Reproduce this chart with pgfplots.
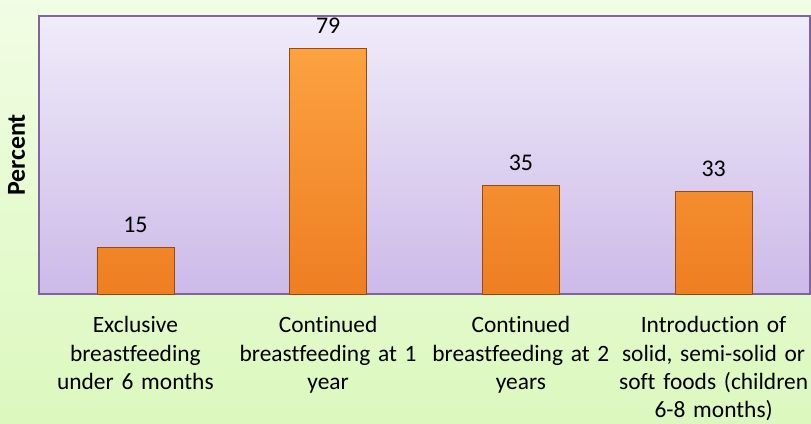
\documentclass[border=0pt]{standalone}
\usepackage{pgfplots}
\pgfplotsset{compat=1.18}
\usepackage{fontspec}
\setmainfont[Ligatures={NoCommon}]{Carlito}
\definecolor{bgtop}{RGB}{241,253,228}
\definecolor{bgbot}{RGB}{220,248,190}
\definecolor{patop}{RGB}{240,236,250}
\definecolor{pabot}{RGB}{204,186,232}
\definecolor{paborder}{RGB}{128,100,162}
\definecolor{bartop}{RGB}{252,162,64}
\definecolor{barbot}{RGB}{238,126,34}
\definecolor{baredge}{RGB}{150,75,15}
\begin{document}
\begin{tikzpicture}[x=1bp,y=1bp]
\useasboundingbox (0,0) rectangle (811,423);
\shade[top color=bgtop,bottom color=bgbot] (0,0) rectangle (811,423);
\begin{axis}[
  at={(39bp,129bp)}, anchor=south west,
  scale only axis, width=771bp, height=278bp,
  xmin=-0.5, xmax=3.5, ymin=0, ymax=89.3,
  ybar, bar width=77bp,
  axis line style={draw=paborder, line width=1.6bp},
  axis background/.style={top color=patop, bottom color=pabot},
  ytick=\empty,
  xtick={0,1,2,3},
  xticklabels={{Exclusive\\breastfeeding\\under 6 months},{Continued\\breastfeeding at 1\\year},{Continued\\breastfeeding at 2\\years},{Introduction of\\solid, semi-solid or\\soft foods (children\\6-8 months)}},
  xticklabel style={align=center, text width=210bp, font=\fontsize{23.5}{28.5}\selectfont, anchor=north, yshift=-19bp},
  major tick length=0pt,
  /pgf/number format/assume math mode=true,
  nodes near coords,
  nodes near coords style={font=\fontsize{24}{28}\selectfont, text=black, yshift=11bp},
  ylabel={\textbf{Percent}},
  ylabel style={font=\fontsize{26}{30}\selectfont, at={(axis description cs:-0.029,0.5)}, anchor=center},
]
\addplot[draw=baredge, line width=0.6bp, top color=bartop, bottom color=barbot] coordinates {(0,15) (1,79) (2,35) (3,33)};
\end{axis}
\end{tikzpicture}
\end{document}
